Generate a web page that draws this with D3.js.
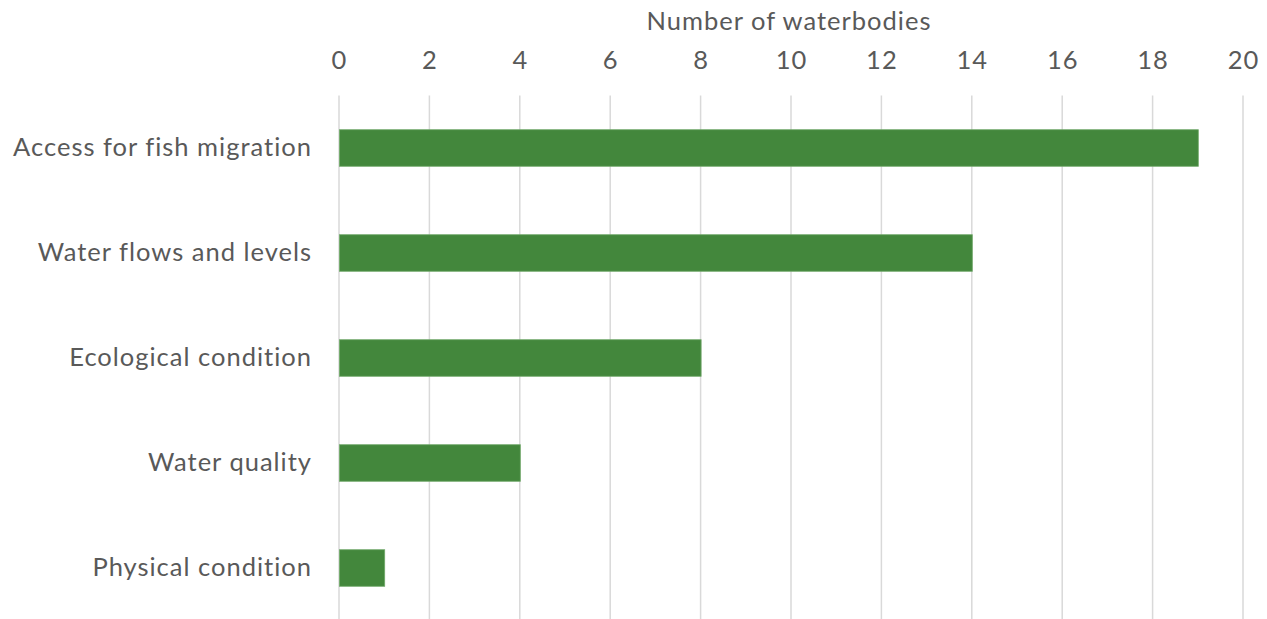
<!DOCTYPE html>
<html>
<head>
<meta charset="utf-8">
<script src="https://cdn.jsdelivr.net/npm/d3@7"></script>
<style>
  body { margin: 0; background: #fff; }
  text { font-family: Lato, "Open Sans", sans-serif; fill: #595959; }
</style>
</head>
<body>
<div id="wrapper"></div>
<script>
const categories = [
  'Access for fish migration',
  'Water flows and levels',
  'Ecological condition',
  'Water quality',
  'Physical condition'
]
const values = [19, 14, 8, 4, 1]
const xTicks = [0, 2, 4, 6, 8, 10, 12, 14, 16, 18, 20]
const axisTitle = 'Number of waterbodies'

const dimensions = {
  width: 1267,
  height: 619,
  margin: { top: 95.5, right: 24, bottom: -1.5, left: 339 }
}
dimensions.boundedWidth = dimensions.width - dimensions.margin.left - dimensions.margin.right
dimensions.boundedHeight = dimensions.height - dimensions.margin.top - dimensions.margin.bottom

const xScale = d3.scaleLinear().domain([0, 20]).range([0, 904])
const yScale = d3.scaleBand()
  .domain(categories)
  .range([0, dimensions.boundedHeight])
  .paddingInner(0.652)
  .paddingOuter(0.326)

const fontSize = 25.5
const spacing = '1px'

const svg = d3.select('#wrapper').append('svg')
  .attr('width', dimensions.width)
  .attr('height', dimensions.height)

const bounds = svg.append('g')
  .attr('transform', `translate(${dimensions.margin.left}, ${dimensions.margin.top})`)

// gridlines
bounds.append('g')
  .selectAll('line')
  .data(xTicks)
  .join('line')
  .attr('x1', d => xScale(d))
  .attr('x2', d => xScale(d))
  .attr('y1', 0)
  .attr('y2', dimensions.height)
  .attr('stroke', '#d9d9d9')
  .attr('stroke-width', 1.5)

// bars
bounds.append('g')
  .selectAll('rect')
  .data(values)
  .join('rect')
  .attr('x', xScale(0) + 0.5)
  .attr('y', (d, i) => yScale(categories[i]))
  .attr('width', d => xScale(d) - xScale(0))
  .attr('height', yScale.bandwidth())
  .attr('fill', '#43873c')
  .attr('stroke', '#6fa868')
  .attr('stroke-width', 0.8)

// top axis labels
const xAxis = bounds.append('g')
  .call(d3.axisTop(xScale).tickValues(xTicks).tickSize(0).tickPadding(0))
xAxis.select('.domain').remove()
xAxis.selectAll('text')
  .attr('y', -27)
  .attr('font-size', fontSize)
  .style('font-family', 'Lato, sans-serif')
  .style('letter-spacing', spacing)
  .attr('fill', '#595959')

// category labels
const yAxis = bounds.append('g')
  .call(d3.axisLeft(yScale).tickSize(0).tickPadding(27))
yAxis.select('.domain').remove()
yAxis.selectAll('text')
  .attr('font-size', fontSize)
  .style('font-family', 'Lato, sans-serif')
  .style('letter-spacing', spacing)
  .attr('fill', '#595959')

// axis title
svg.append('text')
  .attr('x', dimensions.margin.left + xScale(10) - 2)
  .attr('y', 30)
  .attr('text-anchor', 'middle')
  .attr('font-size', fontSize)
  .style('letter-spacing', spacing)
  .text(axisTitle)
</script>
</body>
</html>
